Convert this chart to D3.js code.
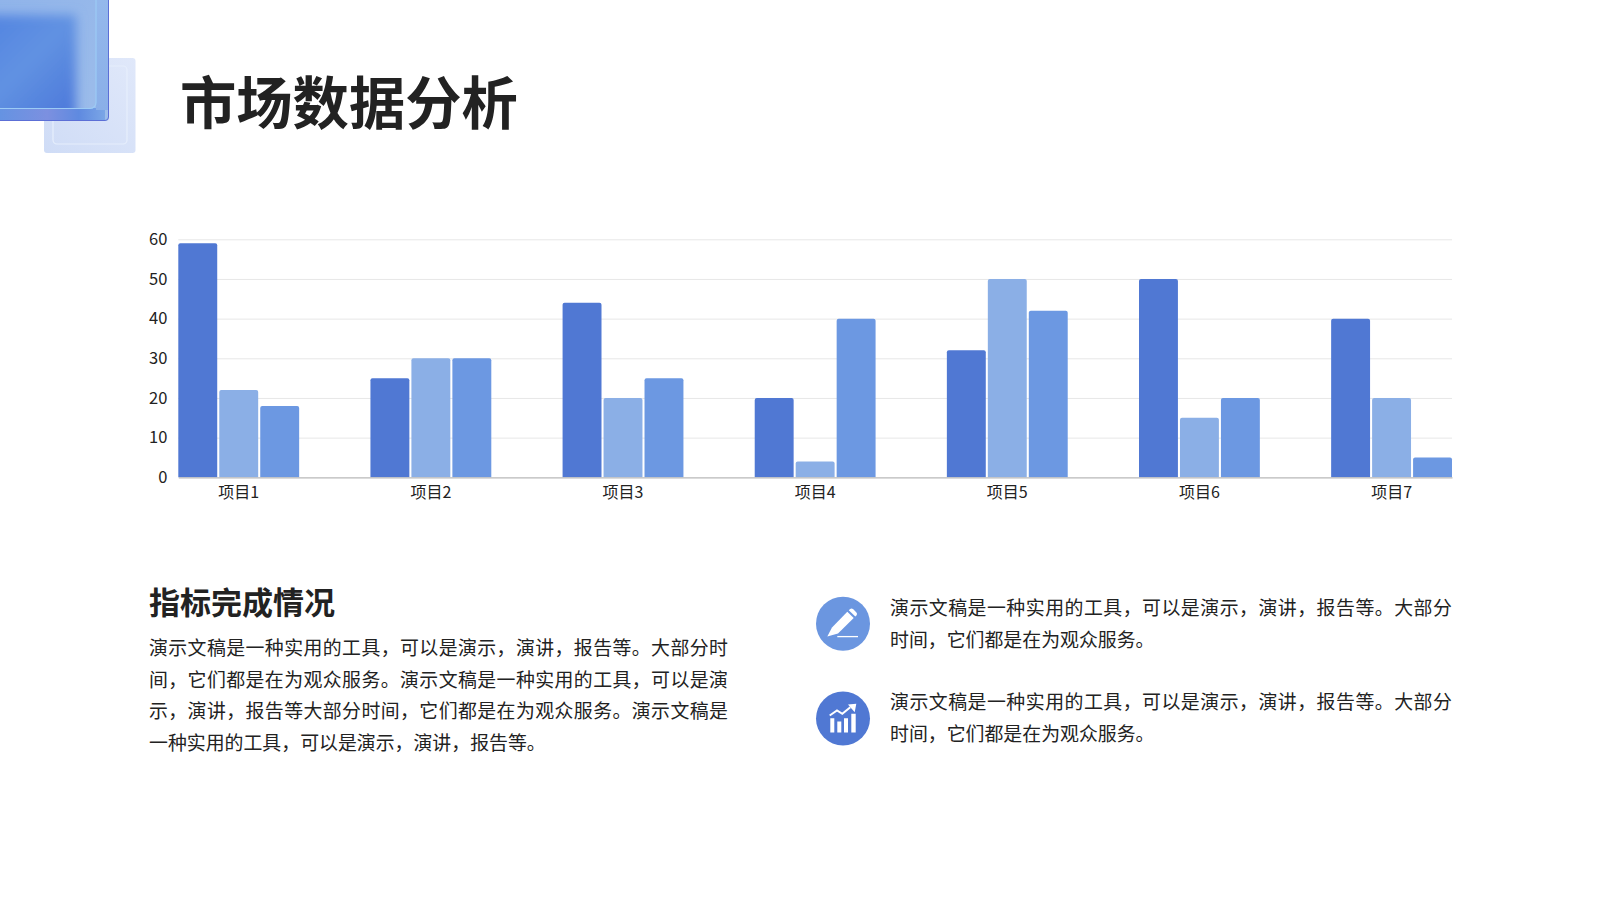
<!DOCTYPE html>
<html>
<head>
<meta charset="utf-8">
<script src="https://cdn.jsdelivr.net/npm/d3@7"></script>
<style>
  html, body { margin: 0; padding: 0; background: #fff; }
  svg { display: block; font-family: "Noto Sans CJK SC", sans-serif; }
</style>
</head>
<body>
<div id="chart"></div>
<script>
// Chart data
const categories = ["项目1", "项目2", "项目3", "项目4", "项目5", "项目6", "项目7"];
const seriesA = [59, 25, 44, 20, 32, 50, 40];
const seriesB = [22, 30, 20, 4, 50, 15, 20];
const seriesC = [18, 30, 25, 40, 42, 20, 5];
const yTicks = [0, 10, 20, 30, 40, 50, 60];

// Texts
const titleText = "市场数据分析";
const subTitle = "指标完成情况";
const leftLines = [
  "演示文稿是一种实用的工具，可以是演示，演讲，报告等。大部分时",
  "间，它们都是在为观众服务。演示文稿是一种实用的工具，可以是演",
  "示，演讲，报告等大部分时间，它们都是在为观众服务。演示文稿是",
  "一种实用的工具，可以是演示，演讲，报告等。"
];
const rightLines = [
  "演示文稿是一种实用的工具，可以是演示，演讲，报告等。大部分",
  "时间，它们都是在为观众服务。"
];

const width = 1600;
const height = 900;
const margin = { top: 239.3, right: 148, bottom: 422.7, left: 178.3 };
const innerWidth = width - margin.left - margin.right;
const innerHeight = height - margin.top - margin.bottom;

const svg = d3.select("#chart").append("svg")
  .attr("width", width)
  .attr("height", height);

const defs = svg.append("defs");

// Decoration gradients and blur
const bigGrad = defs.append("linearGradient").attr("id", "bigGrad")
  .attr("x1", 0).attr("y1", 0).attr("x2", 1).attr("y2", 1);
bigGrad.append("stop").attr("offset", "0%").attr("stop-color", "#8fb3ea");
bigGrad.append("stop").attr("offset", "100%").attr("stop-color", "#9dbdea");
const coreGrad = defs.append("linearGradient").attr("id", "coreGrad")
  .attr("x1", 0).attr("y1", 0).attr("x2", 1).attr("y2", 1);
coreGrad.append("stop").attr("offset", "0%").attr("stop-color", "#4f80e0");
coreGrad.append("stop").attr("offset", "50%").attr("stop-color", "#6192e2");
coreGrad.append("stop").attr("offset", "100%").attr("stop-color", "#4a76da");
const bottomGrad = defs.append("linearGradient").attr("id", "bottomGrad");
bottomGrad.append("stop").attr("offset", "0%").attr("stop-color", "#6593e2");
bottomGrad.append("stop").attr("offset", "45%").attr("stop-color", "#7c90e0");
bottomGrad.append("stop").attr("offset", "75%").attr("stop-color", "#5f8ae0");
bottomGrad.append("stop").attr("offset", "100%").attr("stop-color", "#7ba6e6");
const sideGrad = defs.append("linearGradient").attr("id", "sideGrad")
  .attr("x1", 0).attr("y1", 0).attr("x2", 0).attr("y2", 1);
sideGrad.append("stop").attr("offset", "0%").attr("stop-color", "#94b8ec");
sideGrad.append("stop").attr("offset", "100%").attr("stop-color", "#8aafe8");
const smallGrad = defs.append("linearGradient").attr("id", "smallGrad")
  .attr("x1", 0).attr("y1", 1).attr("x2", 1).attr("y2", 0);
smallGrad.append("stop").attr("offset", "0%").attr("stop-color", "#cfdcf6");
smallGrad.append("stop").attr("offset", "100%").attr("stop-color", "#e0e8fa");
defs.append("filter").attr("id", "soft")
  .attr("x", "-30%").attr("y", "-30%").attr("width", "160%").attr("height", "160%")
  .append("feGaussianBlur").attr("stdDeviation", 5.5);
defs.append("clipPath").attr("id", "innerClip")
  .append("path").attr("d", "M0 0H96V102.5a6 6 0 0 1 -6 6H0Z");

// Top left decoration
const deco = svg.append("g");
deco.append("rect").attr("x", 44).attr("y", 58).attr("width", 91.5).attr("height", 95)
  .attr("rx", 3).attr("fill", "url(#smallGrad)");
deco.append("rect").attr("x", 53).attr("y", 66).attr("width", 74).attr("height", 78)
  .attr("rx", 4).attr("fill", "none").attr("stroke", "#e6eefc").attr("stroke-width", 1.2);
deco.append("rect").attr("x", -10).attr("y", -10).attr("width", 119).attr("height", 131)
  .attr("rx", 4).attr("fill", "url(#bigGrad)");
// darker bands outside the inner line
deco.append("rect").attr("x", 0).attr("y", 108).attr("width", 105).attr("height", 13)
  .attr("fill", "url(#bottomGrad)");
deco.append("rect").attr("x", 96).attr("y", 0).attr("width", 13).attr("height", 110)
  .attr("fill", "url(#sideGrad)");
deco.append("g").attr("clip-path", "url(#innerClip)")
  .append("rect").attr("x", -30).attr("y", 15).attr("width", 106).attr("height", 105)
  .attr("fill", "url(#coreGrad)").attr("filter", "url(#soft)");
deco.append("path").attr("d", "M0 108.5H90a6 6 0 0 0 6 -6V0")
  .attr("fill", "none").attr("stroke", "#9ccbf5").attr("stroke-width", 1.2);
deco.append("path").attr("d", "M108.5 0V117a3.5 3.5 0 0 1 -3.5 3.5H0")
  .attr("fill", "none").attr("stroke", "#5c6fd6").attr("stroke-width", 1);

// Title
svg.append("text").attr("x", 180).attr("y", 124)
  .attr("font-size", 56.3).attr("font-weight", 700).attr("fill", "#222")
  .text(titleText);

// Bar chart
const g = svg.append("g").attr("transform", `translate(${margin.left}, ${margin.top})`);

const x0 = d3.scaleBand()
  .domain(categories)
  .range([0, innerWidth])
  .paddingInner(0.371)
  .paddingOuter(0);

const seriesNames = ["a", "b", "c"];
const x1 = d3.scaleBand()
  .domain(seriesNames)
  .range([0, x0.bandwidth()])
  .paddingInner(0.05);

const y = d3.scaleLinear().domain([0, 60]).range([innerHeight, 0]);

const color = d3.scaleOrdinal()
  .domain(seriesNames)
  .range(["#5078d3", "#8bafe6", "#6c98e2"]);

// Grid lines
const gridAxis = g.append("g")
  .call(d3.axisLeft(y).tickValues(yTicks.slice(1)).tickSize(-innerWidth).tickFormat(""));
gridAxis.select(".domain").remove();
gridAxis.selectAll("line").attr("stroke", "#e7e7e7").attr("stroke-width", 1);

// Y axis labels
const yAxis = g.append("g")
  .call(d3.axisLeft(y).tickValues(yTicks).tickSize(0).tickPadding(11));
yAxis.select(".domain").remove();
yAxis.selectAll("text")
  .attr("font-family", '"Noto Sans CJK SC", sans-serif')
  .attr("font-size", 16.5).attr("fill", "#222");

// Bars with slightly rounded tops
function barPath(bx, by, bw, bh) {
  const r = Math.min(2, bh);
  return `M${bx} ${by + bh}V${by + r}Q${bx} ${by} ${bx + r} ${by}H${bx + bw - r}Q${bx + bw} ${by} ${bx + bw} ${by + r}V${by + bh}Z`;
}

const rows = categories.map((c, i) => ({
  category: c,
  values: [
    { key: "a", value: seriesA[i] },
    { key: "b", value: seriesB[i] },
    { key: "c", value: seriesC[i] }
  ]
}));

g.selectAll("g.group")
  .data(rows)
  .enter().append("g")
    .attr("class", "group")
    .attr("transform", d => `translate(${x0(d.category)}, 0)`)
  .selectAll("path")
  .data(d => d.values)
  .enter().append("path")
    .attr("d", d => barPath(x1(d.key), y(d.value), x1.bandwidth(), innerHeight - y(d.value)))
    .attr("fill", d => color(d.key));

// X axis
const xAxis = g.append("g")
  .attr("transform", `translate(0, ${innerHeight})`)
  .call(d3.axisBottom(x0).tickSize(0).tickPadding(9));
xAxis.select(".domain").attr("stroke", "#b8b8b8").attr("stroke-width", 1.2);
xAxis.selectAll("text")
  .attr("font-family", '"Noto Sans CJK SC", sans-serif')
  .attr("font-size", 16).attr("fill", "#222");

// Left text block
svg.append("text").attr("x", 149).attr("y", 614)
  .attr("font-size", 31).attr("font-weight", 700).attr("fill", "#222")
  .text(subTitle);

svg.append("g").selectAll("text")
  .data(leftLines)
  .enter().append("text")
    .attr("x", 149)
    .attr("y", (d, i) => 655.3 + i * 31.5)
    .attr("font-size", 18.9).attr("fill", "#222")
    .attr("letter-spacing", (d, i) => i < leftLines.length - 1 ? 0.42 : 0)
    .text(d => d);

// Right text blocks
[0, 94.7].forEach(dy => {
  svg.append("g").selectAll("text")
    .data(rightLines)
    .enter().append("text")
      .attr("x", 890)
      .attr("y", (d, i) => 614.5 + dy + i * 32)
      .attr("font-size", 18.9).attr("fill", "#222")
      .attr("letter-spacing", (d, i) => i === 0 ? 0.5 : 0)
      .text(d => d);
});

// Icon: pencil
const pencil = svg.append("g").attr("transform", "translate(843, 623.7)");
pencil.append("circle").attr("r", 27).attr("fill", "#6b96e0");
pencil.append("path")
  .attr("d", "M-15.7 12.7L-11 3.7L4.3 -12L10.7 -5.7L-5 9.7Z")
  .attr("fill", "#fff");
pencil.append("path")
  .attr("d", "M5.8 -13.4Q8 -16.5 10.3 -14.4L13.2 -11.5Q15.2 -9.5 12.3 -7.2Z")
  .attr("fill", "#fff");
pencil.append("path").attr("d", "M-5.7 12.9H15").attr("stroke", "#fff").attr("stroke-width", 1.3);

// Icon: growth chart
const growth = svg.append("g").attr("transform", "translate(843, 718.5)");
growth.append("circle").attr("r", 27).attr("fill", "#5078d3");
growth.append("path")
  .attr("d", "M-12.7 14V-0.3H-8.7V14ZM-5.7 14V3H-1.7V14ZM1 14V-0.3H5V14ZM8.3 14V-4.7H12.7V14Z")
  .attr("fill", "#fff");
growth.append("path")
  .attr("d", "M-13.3 -3L-6 -8L-0.7 -4.7L7.3 -11.3")
  .attr("fill", "none").attr("stroke", "#fff").attr("stroke-width", 2);
growth.append("path").attr("d", "M5 -14L13.3 -14.7L11.7 -6.3Z").attr("fill", "#fff");
</script>
</body>
</html>
